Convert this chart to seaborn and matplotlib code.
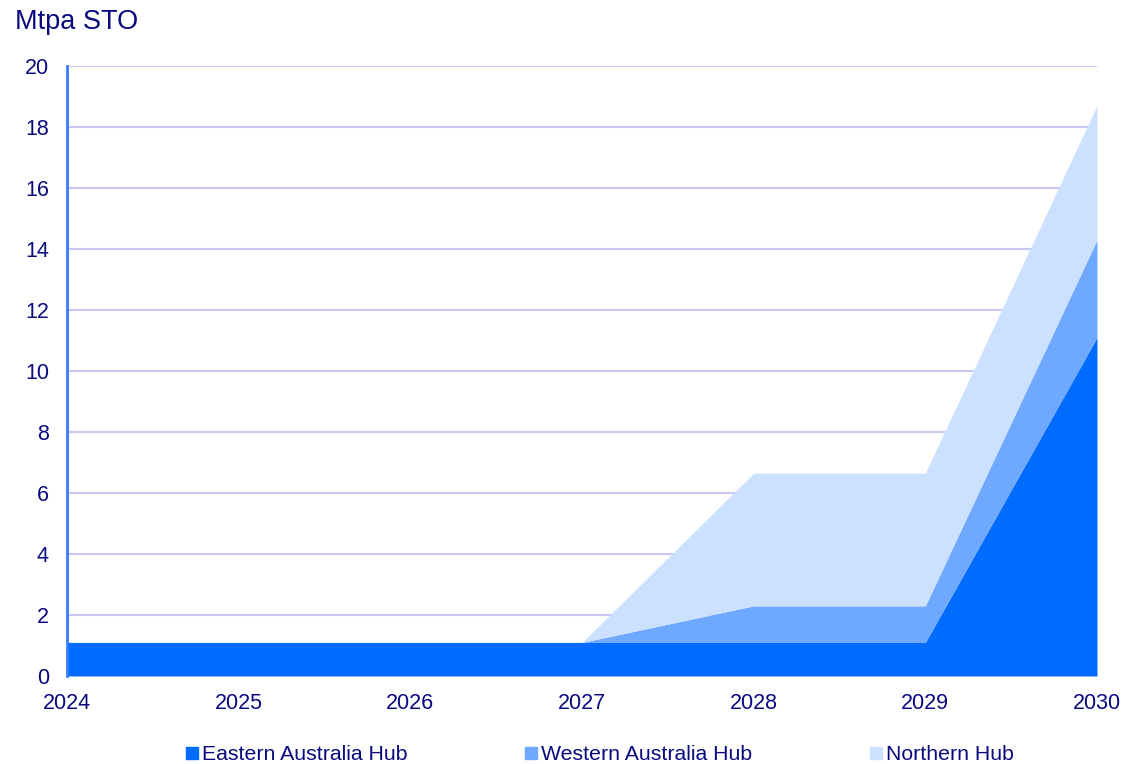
import pandas as pd
import seaborn as sns
import matplotlib.pyplot as plt
from matplotlib.lines import Line2D

years = [2024, 2025, 2026, 2027, 2028, 2029, 2030]
eastern = [1.1, 1.1, 1.1, 1.1, 1.1, 1.1, 11.1]
western = [0.0, 0.0, 0.0, 0.0, 1.2, 1.2, 3.2]
northern = [0.0, 0.0, 0.0, 0.0, 4.35, 4.35, 4.4]
series_names = ["Eastern Australia Hub", "Western Australia Hub", "Northern Hub"]
colors = ["#006CFF", "#6EA8FF", "#CCE0FF"]
y_ticks = [0, 2, 4, 6, 8, 10, 12, 14, 16, 18, 20]

navy = "#0A0A80"

sns.set_theme(style="white")
plt.rcParams["font.family"] = ["Liberation Sans", "DejaVu Sans"]

df = pd.DataFrame({"year": years, series_names[0]: eastern,
                   series_names[1]: western, series_names[2]: northern})

fig = plt.figure(figsize=(11.22, 7.64), dpi=100)
ax = fig.add_axes([0.0597, 0.1152, 0.918, 0.7984])

ax.stackplot(df["year"], df[series_names[0]], df[series_names[1]], df[series_names[2]],
             colors=colors, linewidth=0, zorder=2)

ax.set_xlim(2024, 2030)
ax.set_ylim(0, 20)
ax.set_xticks(years)
ax.set_yticks(y_ticks)
ax.tick_params(axis="both", length=0, labelsize=15.5, colors=navy)
ax.tick_params(axis="x", pad=12)
ax.tick_params(axis="y", pad=13)

for y in y_ticks:
    ax.axhline(y, color="#C8C8F5", linewidth=1.5, zorder=1)

for s in ["top", "right", "bottom"]:
    ax.spines[s].set_visible(False)
ax.spines["left"].set_color("#3A7BFF")
ax.spines["left"].set_linewidth(2)
ax.spines["left"].set_zorder(3)

fig.text(0.013, 0.971, "Mtpa STO", fontsize=19.5, color=navy, va="center", ha="left")

handles = [Line2D([], [], marker="s", linestyle="none", markersize=9,
                  markerfacecolor=c, markeredgecolor=c) for c in colors]
leg = fig.legend(handles, series_names, loc="center", bbox_to_anchor=(0.535, 0.012),
                 ncol=3, frameon=False, fontsize=15.3, handlelength=0.5,
                 handletextpad=0.2, columnspacing=5.6)
for t in leg.get_texts():
    t.set_color(navy)

fig.savefig("out.png", dpi=100)
